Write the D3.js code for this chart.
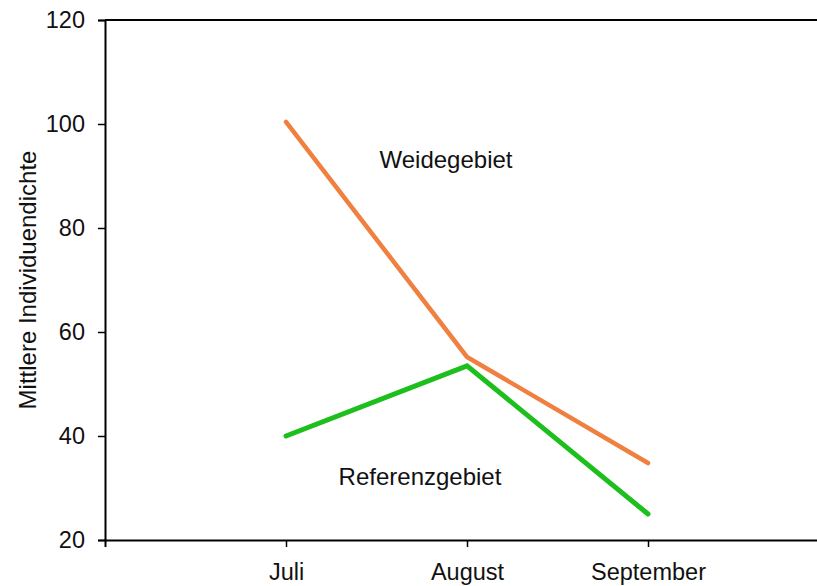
<!DOCTYPE html>
<html><head><meta charset="utf-8">
<script src="https://cdn.jsdelivr.net/npm/d3@7"></script>
<style>body{margin:0;background:#fff;}svg{display:block;font-family:"Liberation Sans",Arial,sans-serif;}</style>
</head><body>
<script>
const months = ["Juli", "August", "September"];
const weidegebiet = [100.4, 55.2, 34.8];
const referenzgebiet = [40.0, 53.5, 25.0];
const yTicks = [20, 40, 60, 80, 100, 120];
const seriesLabels = ["Weidegebiet", "Referenzgebiet"];
const yTitle = "Mittlere Individuendichte";

const W = 817, H = 586;
const svg = d3.select("body").append("svg").attr("width", W).attr("height", H);

const x = d3.scaleLinear().domain([0, 4]).range([105, 829]);
const y = d3.scaleLinear().domain([20, 120]).range([540, 20]);

// top frame line
svg.append("line").attr("x1", x(0)).attr("x2", x(4)).attr("y1", y(120)).attr("y2", y(120))
  .attr("stroke", "#000").attr("stroke-width", 2);

const yAxis = svg.append("g").attr("transform", `translate(${x(0)},0)`)
  .call(d3.axisLeft(y).tickValues(yTicks).tickSize(7).tickPadding(13).tickFormat(d3.format("d")));
const xAxis = svg.append("g").attr("transform", `translate(0,${y(20)})`)
  .call(d3.axisBottom(x).tickValues([1, 2, 3]).tickSize(7).tickPadding(16).tickFormat(d => months[d - 1]));
[yAxis, xAxis].forEach(g => {
  g.select(".domain").attr("stroke", "#000").attr("stroke-width", 2);
  g.selectAll(".tick line").attr("stroke", "#000").attr("stroke-width", 1.5);
  g.selectAll(".tick text").attr("font-size", 23.5).attr("fill", "#111").attr("font-family", "Liberation Sans, Arial, sans-serif");
});

const line = d3.line().x((d, i) => x(i + 1)).y(d => y(d));
svg.append("path").datum(referenzgebiet).attr("d", line).attr("fill", "none")
  .attr("stroke", "#1dbf1d").attr("stroke-width", 5).attr("stroke-linecap", "round");
svg.append("path").datum(weidegebiet).attr("d", line).attr("fill", "none")
  .attr("stroke", "#f08040").attr("stroke-width", 4.5).attr("stroke-linecap", "round");

svg.append("text").attr("x", 446).attr("y", 168).attr("text-anchor", "middle")
  .attr("font-size", 24).attr("fill", "#111").text(seriesLabels[0]);
svg.append("text").attr("x", 420).attr("y", 485).attr("text-anchor", "middle")
  .attr("font-size", 24).attr("fill", "#111").text(seriesLabels[1]);

svg.append("text").attr("transform", `translate(36,${280}) rotate(-90)`).attr("text-anchor", "middle")
  .attr("font-size", 24).attr("fill", "#111").text(yTitle);
</script>
</body></html>
